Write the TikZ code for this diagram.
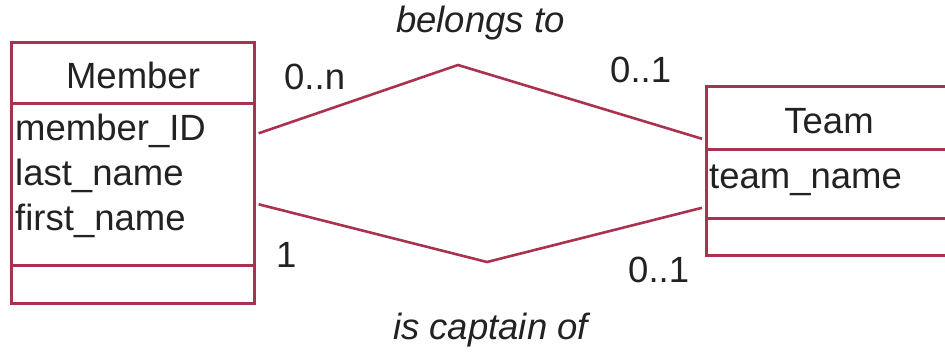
\documentclass[tikz,border=0pt]{standalone}
\usepackage{fontspec}
\setmainfont{Liberation Sans}
\definecolor{linered}{HTML}{A8324F}
\definecolor{inkgrey}{HTML}{222222}
\begin{document}
\begin{tikzpicture}[x=1pt,y=-1pt,
  box/.style={draw=linered,line width=2.6pt,rectangle,inner sep=0pt,anchor=north west},
  txt/.style={text=inkgrey,font=\fontsize{36.5}{44}\selectfont,inner sep=0pt},
  lbl/.style={text=inkgrey,font=\fontsize{36.5}{44}\selectfont,inner sep=0pt,anchor=base west},
  rel/.style={draw=linered,line width=2.6pt,line join=miter}]
\useasboundingbox (0,0) rectangle (945,352);
\clip (0,0) rectangle (945,352);
% Member class
\node[box,minimum width=243pt,minimum height=61pt] (mhead) at (10,41) {};
\node[box,minimum width=243pt,minimum height=162pt] (mattr) at (10,102) {};
\node[box,minimum width=243pt,minimum height=38pt] (mops) at (10,264) {};
\node[txt,anchor=base] (mname) at (133,89) {Member};
\node[lbl] (mid) at (15,141) {member\_ID};
\node[lbl] (mlast) at (15,186) {last\_name};
\node[lbl] (mfirst) at (15,231) {first\_name};
% Team class
\node[box,minimum width=248pt,minimum height=63pt] (thead) at (705,85) {};
\node[box,minimum width=248pt,minimum height=69pt] (tattr) at (705,148) {};
\node[box,minimum width=248pt,minimum height=37pt] (tops) at (705,217) {};
\node[txt,anchor=base] (tname) at (829,134) {Team};
\node[lbl] (tteam) at (709,189) {team\_name};
% relationships
\coordinate (peaktop) at (458,65);
\coordinate (peakbot) at (487,262);
\draw[rel] ([yshift=51pt,xshift=3pt]mattr.east) -- (peaktop) -- ([yshift=-21pt,xshift=-3pt]thead.west);
\draw[rel] ([yshift=-20pt,xshift=3pt]mattr.east) -- (peakbot) -- ([yshift=-24pt,xshift=-3pt]tattr.west);
% labels
\node[lbl] (c1) at (284,90) {0..n};
\node[lbl] (c2) at (610,83) {0..1};
\node[lbl] (c3) at (276,268) {1};
\node[lbl] (c4) at (628,283) {0..1};
\node[lbl,font=\fontsize{36.5}{44}\selectfont\itshape] (r1) at (396,33) {belongs to};
\node[lbl,font=\fontsize{36.5}{44}\selectfont\itshape] (r2) at (393,340) {is captain of};
\end{tikzpicture}
\end{document}
